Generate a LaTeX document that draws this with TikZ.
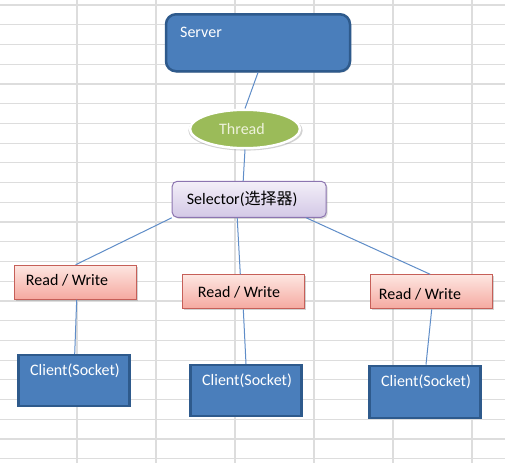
\documentclass[tikz,border=0pt]{standalone}
\usepackage{fontspec}
\setmainfont{Carlito}
\newfontfamily\cjkfont{Noto Sans CJK SC}
\usetikzlibrary{shapes.geometric,shadows}
\definecolor{gridc}{HTML}{DDDDDD}
\definecolor{srvfill}{HTML}{4A7EBB}
\definecolor{srvdraw}{HTML}{2E5A8C}
\definecolor{thrfill}{HTML}{9BBB59}
\definecolor{thrtext}{HTML}{EEF2DC}
\definecolor{seltop}{HTML}{F3EFF8}
\definecolor{selbot}{HTML}{D3C8E6}
\definecolor{seldraw}{HTML}{8C75B0}
\definecolor{rwtop}{HTML}{FDE6E1}
\definecolor{rwbot}{HTML}{F5A9A0}
\definecolor{rwdraw}{HTML}{C65F58}
\definecolor{linkc}{HTML}{5F8DC8}
\tikzset{
  gridline/.style={draw=gridc, line width=1.2pt},
  link/.style={draw=linkc, line width=1pt},
  txt/.style={font=\fontsize{16}{19}\selectfont},
  wtxt/.style={txt, text=white},
  serverbox/.style={draw=srvdraw, fill=srvfill, line width=2.5pt, rounded corners=10pt,
    minimum width=184pt, minimum height=57pt, inner sep=0pt,
    drop shadow={shadow xshift=1pt, shadow yshift=-1.5pt, opacity=0.3}},
  threadshape/.style={ellipse, draw=white, fill=thrfill, line width=2.5pt,
    minimum width=110pt, minimum height=38.5pt, inner sep=0pt, txt, text=thrtext,
    drop shadow={shadow xshift=0.5pt, shadow yshift=-1.5pt, shadow scale=1.04, opacity=0.35}},
  selbox/.style={draw=seldraw, top color=seltop, bottom color=selbot, line width=1pt,
    rounded corners=5pt, minimum width=154pt, minimum height=36pt, inner sep=0pt, txt,
    drop shadow={shadow xshift=1.5pt, shadow yshift=-1.5pt, opacity=0.3}},
  rwbox/.style={draw=rwdraw, top color=rwtop, bottom color=rwbot, line width=1pt,
    minimum width=122pt, minimum height=34pt, inner sep=0pt,
    drop shadow={shadow xshift=1.5pt, shadow yshift=-1.5pt, opacity=0.35}},
  clientbox/.style={draw=srvdraw, fill=srvfill, line width=2.5pt,
    minimum width=111pt, minimum height=51pt, inner sep=0pt},
}
\begin{document}
\begin{tikzpicture}[x=1pt,y=-1pt]
\fill[white] (0,0) rectangle (505,463);
\useasboundingbox (0,0) rectangle (505,463);
% spreadsheet grid
\foreach \k in {0,...,23} \draw[gridline] (0,{5+19.73*\k}) -- (505,{5+19.73*\k});
\foreach \x in {77,156,235,314,393,472} \draw[gridline] (\x,0) -- (\x,463);

% nodes
\node[serverbox, label={[wtxt, xshift=-57pt, yshift=10.5pt]center:Server}] (server) at (258,42.75) {};
\node[threadshape, text height=11pt, text depth=0pt] (thread) at (245,129) {\hspace{-6pt}Thread};
\node[selbox] (selector) at (249.2,199.3) {\hspace{-14pt}Selector({\cjkfont 选择器})};

\node[rwbox, label={[txt, xshift=-8.7pt, yshift=1.5pt]center:Read / Write}] (rw1) at (75.7,282.2) {};
\node[rwbox, label={[txt, xshift=-4.3pt]center:Read / Write}] (rw2) at (243.3,291.8) {};
\node[rwbox, label={[txt, xshift=-11.7pt, yshift=-2.2pt]center:Read / Write}] (rw3) at (431.7,291.8) {};

\node[clientbox, label={[wtxt, xshift=1pt, yshift=10pt]center:Client(Socket)}] (c1) at (74,380.7) {};
\node[clientbox, label={[wtxt, xshift=1pt, yshift=10pt]center:Client(Socket)}] (c2) at (246,390.7) {};
\node[clientbox, minimum height=52pt, label={[wtxt, xshift=1pt, yshift=10pt]center:Client(Socket)}] (c3) at (425,391.8) {};

% connectors
\draw[link] (server.south) -- (thread.north);
\draw[link] (thread.south) -- ([xshift=-6pt]selector.north);
\draw[link] (selector.south west) -- (rw1.north);
\draw[link] ([xshift=-12pt]selector.south) -- ([xshift=-3pt]rw2.north);
\draw[link] ([xshift=57pt]selector.south) -- ([xshift=-1.5pt]rw3.north);
\draw[link] ([xshift=1pt]rw1.south) -- ([xshift=0.7pt]c1.north);
\draw[link] (rw2.south) -- (c2.north);
\draw[link] (rw3.south) -- ([xshift=1pt]c3.north);
\end{tikzpicture}
\end{document}
